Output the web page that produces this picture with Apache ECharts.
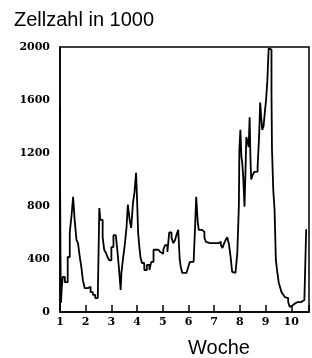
<!DOCTYPE html>
<html>
<head>
<meta charset="utf-8">
<script src="https://cdn.jsdelivr.net/npm/echarts@6/dist/echarts.min.js"></script>
<style>
  html, body { margin: 0; padding: 0; background: #fff; }
  #chart { width: 312px; height: 358px; }
</style>
</head>
<body>
<div id="chart"></div>
<script>
// Woche (x) und Zellzahl in 1000 (y)
const weeks = [
  1.00, 1.02, 1.04, 1.07, 1.11, 1.19, 1.30, 1.38, 1.45, 1.51, 1.57, 1.64, 1.70, 1.77, 1.83, 1.89, 1.96,
  2.02, 2.08, 2.19, 2.28, 2.37, 2.47, 2.53, 2.57, 2.66, 2.72, 2.79, 2.85, 2.92,
  3.00, 3.08, 3.17, 3.23, 3.30, 3.36, 3.39, 3.46, 3.52, 3.59, 3.64, 3.71, 3.77, 3.84, 3.90, 3.96,
  4.00, 4.04, 4.09, 4.13, 4.19, 4.28, 4.38, 4.48, 4.55, 4.64, 4.74, 4.83, 4.90, 4.96,
  5.02, 5.09, 5.18, 5.25, 5.34, 5.41, 5.47, 5.53, 5.60, 5.66, 5.70, 5.76, 5.83, 5.92, 5.98,
  6.05, 6.11, 6.20, 6.26, 6.30, 6.36, 6.40, 6.45, 6.53, 6.62, 6.68, 6.75, 6.84, 6.91,
  7.00, 7.07, 7.17, 7.26, 7.32, 7.39, 7.45, 7.51, 7.58, 7.64, 7.70, 7.77, 7.83, 7.90, 7.96, 7.98,
  8.02, 8.06, 8.09, 8.13, 8.18, 8.21, 8.25, 8.31, 8.34, 8.38, 8.41, 8.44, 8.50, 8.56, 8.62, 8.69, 8.75, 8.79, 8.83, 8.87, 8.92, 8.98,
  9.02, 9.07, 9.12, 9.17, 9.23, 9.25, 9.30, 9.35, 9.40, 9.46, 9.51, 9.56, 9.62, 9.69, 9.75, 9.81, 9.88, 9.94,
  10.00, 10.07, 10.17, 10.26, 10.39, 10.51, 10.58, 10.61
];
const counts = [
  1550, 1100, 400, 70, 190, 265, 225, 415, 600, 730, 870, 695, 545, 520, 415, 340, 240,
  180, 180, 190, 150, 130, 105, 105, 785, 695, 565, 470, 445, 415,
  390, 490, 580, 565, 470, 317, 166, 295, 415, 505, 640, 810, 695, 635, 823, 905,
  1050, 845, 600, 490, 415, 370, 317, 355, 317, 378, 470, 470, 483, 453,
  440, 470, 505, 453, 600, 560, 520, 540, 580, 620, 393, 340, 295, 295, 305,
  332, 378, 378, 378, 657, 870, 680, 620, 620, 605, 560, 530, 520, 505,
  520, 505, 520, 530, 505, 483, 520, 545, 565, 505, 415, 302, 295, 310, 445, 795,
  1225, 1375, 1170, 1130, 1020, 795, 1000, 1320, 1275, 1245, 1470, 1170, 1000, 1035, 1057, 1060, 1095, 1335, 1580, 1470, 1375, 1400,
  1525, 1600, 1750, 1990, 1980, 1650, 1225, 920, 770, 393, 295, 225, 190, 150, 130, 113, 105, 75,
  38, 53, 68, 75, 75, 90, 90, 620
];
const yTicks = [0, 400, 800, 1200, 1600, 2000];
const xTicks = [1, 2, 3, 4, 5, 6, 7, 8, 9, 10];

const chart = echarts.init(document.getElementById('chart'));
const tickFont = { fontFamily: 'DejaVu Serif', fontWeight: 'bold', fontSize: 11, color: '#000' };

chart.setOption({
  animation: false,
  backgroundColor: '#fff',
  title: {
    text: 'Zellzahl in 1000',
    left: 9, top: 5,
    textStyle: { fontFamily: 'Liberation Sans', fontWeight: 'normal', fontSize: 20, color: '#000' }
  },
  graphic: [{
    type: 'text', x: 219, y: 348,
    style: { text: 'Woche', fontFamily: 'Liberation Sans', fontSize: 20, fill: '#000', align: 'center', verticalAlign: 'middle' }
  }],
  grid: { left: 60, right: -1, top: 47, bottom: 46, show: true, borderColor: '#000', borderWidth: 1.5 },
  xAxis: {
    type: 'value', min: 1, max: 10.69, interval: 1,
    axisLine: { lineStyle: { color: '#000', width: 1.5 } },
    axisTick: { inside: true, length: 7, lineStyle: { color: '#000', width: 1.5 } },
    axisLabel: Object.assign({ margin: 5, formatter: v => xTicks.includes(v) ? String(v) : '' }, tickFont),
    splitLine: { show: false }
  },
  yAxis: {
    type: 'value', min: 0, max: 2000, interval: 400,
    axisLine: { show: true, lineStyle: { color: '#000', width: 1.5 } },
    axisTick: { show: false },
    axisLabel: Object.assign({ margin: 10, formatter: v => yTicks.includes(v) ? String(v) : '' }, tickFont),
    splitLine: { show: false }
  },
  series: [{
    type: 'line',
    data: weeks.map((w, i) => [w, counts[i]]),
    step: 'start',
    showSymbol: false,
    lineStyle: { color: '#000', width: 1.8 }
  }]
});
</script>
</body>
</html>
